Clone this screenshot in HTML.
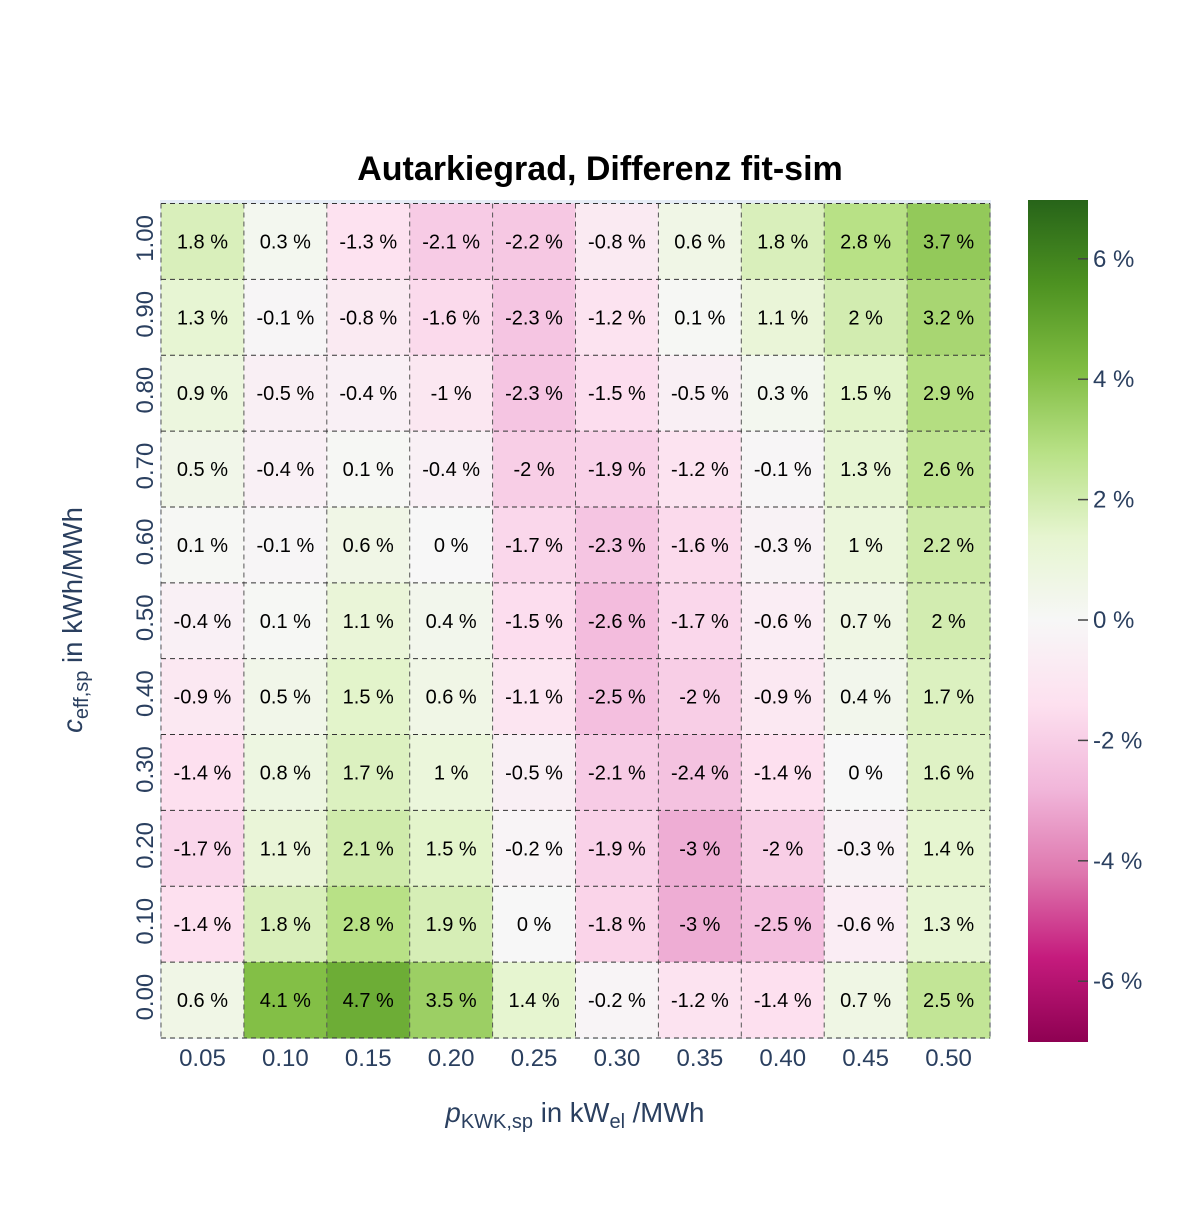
<!DOCTYPE html>
<html><head><meta charset="utf-8"><style>
body{margin:0;background:#fff;font-family:"Liberation Sans",sans-serif}
</style></head><body>
<svg id="c" width="1200" height="1200" xmlns="http://www.w3.org/2000/svg">
<defs><linearGradient id="cb" x1="0" y1="1" x2="0" y2="0">
<stop offset="0" stop-color="#8e0152"/><stop offset="0.1" stop-color="#c51b7d"/><stop offset="0.2" stop-color="#de77ae"/><stop offset="0.3" stop-color="#f1b6da"/><stop offset="0.4" stop-color="#fde0ef"/><stop offset="0.5" stop-color="#f7f7f7"/><stop offset="0.6" stop-color="#e6f5d0"/><stop offset="0.7" stop-color="#b8e186"/><stop offset="0.8" stop-color="#7fbc41"/><stop offset="0.9" stop-color="#4d9221"/><stop offset="1" stop-color="#276419"/>
</linearGradient></defs>
<rect x="160" y="200" width="831" height="839" fill="#e5ecf6"/>
<text x="600" y="180" text-anchor="middle" font-size="34" font-weight="bold" fill="#000">Autarkiegrad, Differenz fit-sim</text>
<g id="cells"></g><g id="grid"></g><g id="labels"></g><g id="ticks"></g>
<rect x="1028" y="200" width="60" height="842" fill="url(#cb)"/>
<g id="cbt"></g>
<text x="575" y="1122" text-anchor="middle" font-size="27.5" fill="#2a3f5f"><tspan font-style="italic">p</tspan><tspan font-size="20" dy="6">KWK,sp</tspan><tspan dy="-6"> in kW</tspan><tspan font-size="20" dy="6">el</tspan><tspan dy="-6"> /MWh</tspan></text>
<text transform="translate(82,620) rotate(-90)" text-anchor="middle" font-size="27.5" fill="#2a3f5f"><tspan font-style="italic">c</tspan><tspan font-size="20" dy="6">eff,sp</tspan><tspan dy="-6"> in kWh/MWh</tspan></text>
</svg>
<script>
const xCats=["0.05","0.10","0.15","0.20","0.25","0.30","0.35","0.40","0.45","0.50"];
const yCats=["1.00","0.90","0.80","0.70","0.60","0.50","0.40","0.30","0.20","0.10","0.00"];
const z=[
[1.8,0.3,-1.3,-2.1,-2.2,-0.8,0.6,1.8,2.8,3.7],
[1.3,-0.1,-0.8,-1.6,-2.3,-1.2,0.1,1.1,2,3.2],
[0.9,-0.5,-0.4,-1,-2.3,-1.5,-0.5,0.3,1.5,2.9],
[0.5,-0.4,0.1,-0.4,-2,-1.9,-1.2,-0.1,1.3,2.6],
[0.1,-0.1,0.6,0,-1.7,-2.3,-1.6,-0.3,1,2.2],
[-0.4,0.1,1.1,0.4,-1.5,-2.6,-1.7,-0.6,0.7,2],
[-0.9,0.5,1.5,0.6,-1.1,-2.5,-2,-0.9,0.4,1.7],
[-1.4,0.8,1.7,1,-0.5,-2.1,-2.4,-1.4,0,1.6],
[-1.7,1.1,2.1,1.5,-0.2,-1.9,-3,-2,-0.3,1.4],
[-1.4,1.8,2.8,1.9,0,-1.8,-3,-2.5,-0.6,1.3],
[0.6,4.1,4.7,3.5,1.4,-0.2,-1.2,-1.4,0.7,2.5]];
const cbTicks=[6,4,2,0,-2,-4,-6];
const zmin=-7,zmax=7;
const X0=161,X1=990,Y0=203.5,Y1=1038;
const cw=(X1-X0)/xCats.length,ch=(Y1-Y0)/yCats.length;
const xs=i=>X0+i*cw, ys=j=>Y0+j*ch;
const cbY=v=>620-(v)*60.2;
const stops=[[142,1,82],[197,27,125],[222,119,174],[241,182,218],[253,224,239],[247,247,247],[230,245,208],[184,225,134],[127,188,65],[77,146,33],[39,100,25]];
function color(v){let t=(v-zmin)/(zmax-zmin)*10;t=Math.max(0,Math.min(10,t));const i=Math.min(9,Math.floor(t)),f=t-i;const a=stops[i],b=stops[i+1];return `rgb(${a.map((c,k)=>Math.round(c+(b[k]-c)*f)).join(',')})`;}
const NS="http://www.w3.org/2000/svg";
function mk(t,at,p){const e=document.createElementNS(NS,t);for(const k in at)e.setAttribute(k,at[k]);document.getElementById(p).appendChild(e);return e;}
z.forEach((row,j)=>row.forEach((v,i)=>{
 const r=mk('rect',{x:xs(i),y:ys(j),width:cw+0.5,height:ch+0.5,fill:color(v)},'cells');
 
 
 const t=mk('text',{x:xs(i)+cw/2,y:ys(j)+ch/2+7,'text-anchor':'middle','font-size':20,fill:'#000'},'labels');
 t.textContent=v+' %';
 
 
}));
for(let i=0;i<=xCats.length;i++){const l=mk('line',{x1:xs(i),x2:xs(i),y1:Y0,y2:Y1,stroke:'#555','stroke-width':1,'stroke-dasharray':'5,4'},'grid');
 
 }
for(let j=0;j<=yCats.length;j++){const l=mk('line',{x1:X0,x2:X1,y1:ys(j),y2:ys(j),stroke:'#333','stroke-width':1,'stroke-dasharray':'5,4'},'grid');
 
 }
xCats.forEach((c,i)=>{const t=mk('text',{x:xs(i)+cw/2,y:1066,'text-anchor':'middle','font-size':24,fill:'#2a3f5f'},'ticks');t.textContent=c;
 
 });
yCats.forEach((c,j)=>{const y=ys(j)+ch/2;const t=mk('text',{x:0,y:0,transform:`translate(153,${y-3}) rotate(-90)`,'text-anchor':'middle','font-size':24,fill:'#2a3f5f'},'ticks');t.textContent=c;
 
 });
cbTicks.forEach(v=>{const y=cbY(v);mk('line',{x1:1078,x2:1088,y1:y,y2:y,stroke:'#444','stroke-width':1.5},'cbt');
 const t=mk('text',{x:1093,y:y+8,'font-size':24,fill:'#2a3f5f'},'cbt');t.textContent=v+' %';
 
 });
</script>
</body></html>
